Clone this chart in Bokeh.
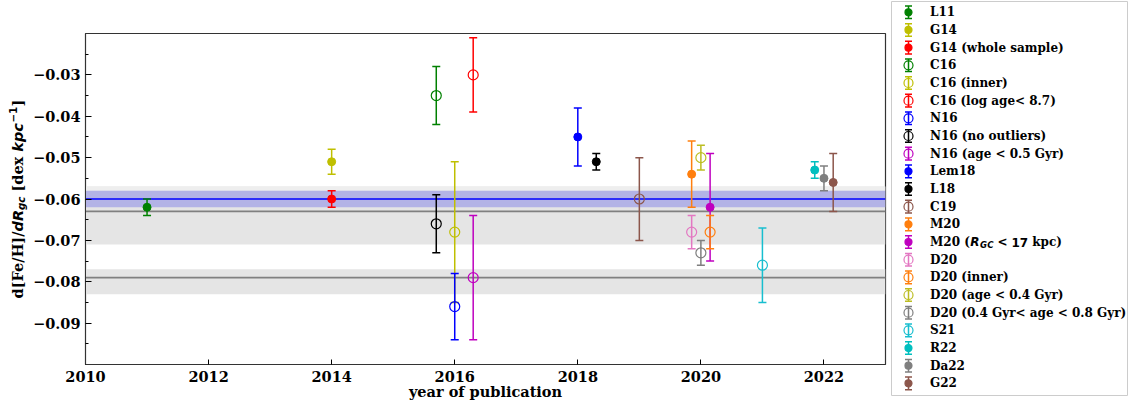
import math, os, glob
from bokeh.plotting import figure
from bokeh.models import Range1d, FixedTicker, ColumnDataSource, Span, BoxAnnotation
from bokeh.layouts import row
from bokeh.embed import file_html
from bokeh.resources import INLINE
from bokeh.core.properties import value

# ---------------- data ----------------
names = ["L11", "G14", "G14 (whole sample)", "C16", "C16 (inner)", "C16 (log age< 8.7)",
         "N16", "N16 (no outliers)", "N16 (age < 0.5 Gyr)", "Lem18", "L18", "C19", "M20",
         "M20 (R_GC < 17 kpc)", "D20", "D20 (inner)", "D20 (age < 0.4 Gyr)",
         "D20 (0.4 Gyr< age < 0.8 Gyr)", "S21", "R22", "Da22", "G22"]
year = [2011.0, 2014.0, 2014.0, 2015.7, 2016.0, 2016.3, 2016.0, 2015.7, 2016.3, 2018.0,
        2018.3, 2019.0, 2019.85, 2020.15, 2019.85, 2020.15, 2020.0, 2020.0, 2021.0,
        2021.85, 2022.0, 2022.15]
grad = [-0.062, -0.051, -0.060, -0.035, -0.068, -0.030, -0.086, -0.066, -0.079, -0.045,
        -0.051, -0.060, -0.054, -0.062, -0.068, -0.068, -0.050, -0.073, -0.076, -0.053,
        -0.055, -0.056]
err = [0.002, 0.003, 0.002, 0.007, 0.017, 0.009, 0.008, 0.007, 0.015, 0.007, 0.002, 0.010,
       0.008, 0.013, 0.004, 0.004, 0.003, 0.003, 0.009, 0.002, 0.003, 0.007]
colors = ["#008000", "#bfbf00", "#ff0000", "#008000", "#bfbf00", "#ff0000", "#0000ff",
          "#000000", "#bf00bf", "#0000ff", "#000000", "#8c564b", "#ff7f0e", "#bf00bf",
          "#e377c2", "#ff7f0e", "#bcbd22", "#7f7f7f", "#17becf", "#00bfbf", "#7f7f7f",
          "#8c564b"]
filled = [1, 1, 1, 0, 0, 0, 0, 0, 0, 1, 1, 0, 1, 1, 0, 0, 0, 0, 0, 1, 1, 1]

# reference bands / lines
grey_band_bottom = [-0.071, -0.083]
grey_band_top = [-0.057, -0.077]
grey_lines = [-0.063, -0.079]
light_strip = (-0.058, -0.057)
blue_band = (-0.062, -0.058)
blue_line = -0.060

x_ticks = [2010, 2012, 2014, 2016, 2018, 2020, 2022]
y_ticks = [-0.09, -0.08, -0.07, -0.06, -0.05, -0.04, -0.03]
y_minor = [-0.095, -0.085, -0.075, -0.065, -0.055, -0.045, -0.035, -0.025]
y_labels = ["\u22120.09", "\u22120.08", "\u22120.07", "\u22120.06", "\u22120.05",
            "\u22120.04", "\u22120.03"]

SERIF = "DejaVu Serif"
SANS = "DejaVu Sans"

# ---------------- text measuring helper ----------------
_font_cache = {}
def _find(fname):
    if fname in _font_cache:
        return _font_cache[fname]
    res = None
    for d in ["/usr/share/fonts", "/usr/local/share/fonts", os.path.expanduser("~/.fonts")]:
        r = glob.glob(d + "/**/" + fname, recursive=True)
        if r:
            res = r[0]
            break
    _font_cache[fname] = res
    return res

def text_w(s, fname, size, em=0.62):
    try:
        from PIL import ImageFont
        f = ImageFont.truetype(_find(fname), 100)
        return f.getlength(s) * size / 100.0
    except Exception:
        return len(s) * em * size

def no_align(fig):
    try:
        fig.frame_align = False
    except Exception:
        pass

H = 402
TOP, BOT = 33, 38

# ---------------- y-label figure (rotated composed label) ----------------
W_YL = 30
yl = figure(width=W_YL, height=H, output_backend="svg", toolbar_location=None,
            x_range=Range1d(0, W_YL), y_range=Range1d(BOT, H - TOP),
            x_axis_location=None, y_axis_location=None,
            min_border_left=0, min_border_right=0, min_border_top=TOP, min_border_bottom=BOT)
yl.grid.visible = False
yl.outline_line_color = None
no_align(yl)

ylab_pieces = [
    # text, font file, font name, style, size, perpendicular shift, gap before
    ("d[Fe/H]/", "DejaVuSerif-Bold.ttf", SERIF, "bold", 14.5, 0, 0),
    ("dR", "DejaVuSans-BoldOblique.ttf", SANS, "bold italic", 14.5, 0, 0),
    ("gc", "DejaVuSans-BoldOblique.ttf", SANS, "bold italic", 10.2, 3.5, 0),
    ("[dex", "DejaVuSerif-Bold.ttf", SERIF, "bold", 14.5, 0, 5.0),
    ("kpc", "DejaVuSans-BoldOblique.ttf", SANS, "bold italic", 14.5, 0, 5.0),
    ("\u22121", "DejaVuSans-Bold.ttf", SANS, "bold", 10.2, -5.0, 0.5),
    ("]", "DejaVuSerif-Bold.ttf", SERIF, "bold", 14.5, 0, 0.5),
]
widths = [text_w(t, ff, sz) for (t, ff, fn, st, sz, sh, g) in ylab_pieces]
gaps = [g for (t, ff, fn, st, sz, sh, g) in ylab_pieces]
total = sum(widths) + sum(gaps)
center_page_y = TOP + (H - TOP - BOT) / 2.0
pos = (H - center_page_y) - total / 2.0
for (t, ff, fn, st, sz, sh, g), w in zip(ylab_pieces, widths):
    pos += g
    yl.text(x=[17 + sh], y=[pos], text=[t], angle=math.pi / 2, text_font=value(fn),
            text_font_style=st, text_font_size=f"{sz}px", text_align="left",
            text_baseline="middle", text_color="black")
    pos += w

# ---------------- main figure ----------------
W_MAIN = 860
p = figure(width=W_MAIN, height=H, output_backend="svg", toolbar_location=None,
           x_range=Range1d(2010, 2023), y_range=Range1d(-0.1, -0.02),
           min_border_left=54, min_border_right=5, min_border_top=TOP, min_border_bottom=BOT)
p.grid.visible = False
p.outline_line_color = "#333333"
p.outline_line_width = 1.2
p.background_fill_color = "white"
p.border_fill_color = "white"
no_align(p)

for b0, b1 in zip(grey_band_bottom, grey_band_top):
    p.add_layout(BoxAnnotation(bottom=b0, top=b1, fill_color="#e5e5e5", fill_alpha=1.0,
                               line_color=None, level="underlay"))
p.add_layout(BoxAnnotation(bottom=light_strip[0], top=light_strip[1], fill_color="#eeeeee",
                           fill_alpha=1.0, line_color=None, level="underlay"))
p.add_layout(BoxAnnotation(bottom=blue_band[0], top=blue_band[1], fill_color="#b3b3e6",
                           fill_alpha=1.0, line_color=None, level="underlay"))
for gl in grey_lines:
    p.add_layout(Span(location=gl, dimension="width", line_color="#808080", line_width=1.6,
                      level="underlay"))
p.add_layout(Span(location=blue_line, dimension="width", line_color="#0000ff", line_width=1.6,
                  level="underlay"))

for i in range(len(names)):
    src = ColumnDataSource(dict(x=[year[i]], y=[grad[i]],
                                lo=[grad[i] - err[i]], hi=[grad[i] + err[i]]))
    c = colors[i]
    p.segment(x0="x", x1="x", y0="lo", y1="hi", source=src, line_color=c, line_width=1.5)
    p.scatter(x="x", y="lo", source=src, marker="dash", size=8, line_color=c, line_width=1.5)
    p.scatter(x="x", y="hi", source=src, marker="dash", size=8, line_color=c, line_width=1.5)
    if filled[i]:
        p.scatter(x="x", y="y", source=src, marker="circle", size=8, fill_color=c,
                  line_color=c, line_width=1)
    else:
        p.scatter(x="x", y="y", source=src, marker="circle", size=10, fill_color=None,
                  line_color=c, line_width=1.2)

xa = p.xaxis[0]
xa.ticker = FixedTicker(ticks=x_ticks, minor_ticks=[])
xa.axis_label = "year of publication"
xa.axis_label_text_font = SERIF
xa.axis_label_text_font_style = "bold"
xa.axis_label_text_font_size = "14.5px"
xa.axis_label_text_color = "black"
xa.axis_label_standoff = -2
xa.major_label_text_font = SERIF
xa.major_label_text_font_style = "bold"
xa.major_label_text_font_size = "14.5px"
xa.major_label_text_color = "black"
xa.major_label_standoff = 6
xa.major_tick_in = 5
xa.major_tick_out = 0
xa.major_tick_line_color = "black"
xa.axis_line_color = "#333333"

ya = p.yaxis[0]
ya.ticker = FixedTicker(ticks=y_ticks, minor_ticks=y_minor)
ya.major_label_overrides = {t: l for t, l in zip(y_ticks, y_labels)}
ya.major_label_text_font = SERIF
ya.major_label_text_font_style = "bold"
ya.major_label_text_font_size = "14.5px"
ya.major_label_text_color = "black"
ya.major_label_standoff = 5
ya.major_tick_in = 6
ya.major_tick_out = 0
ya.minor_tick_in = 3
ya.minor_tick_out = 0
ya.major_tick_line_color = "black"
ya.minor_tick_line_color = "black"
ya.axis_line_color = "#333333"
ya.axis_label = None

# ---------------- legend figure ----------------
W_LEG = 238
H_LEG = 396
LW, LH = W_LEG - 2, H_LEG - 2
leg = figure(width=W_LEG, height=H_LEG, output_backend="svg", toolbar_location=None,
             x_range=Range1d(0, LW), y_range=Range1d(LH, 0),
             x_axis_location=None, y_axis_location=None,
             min_border_left=1, min_border_right=1, min_border_top=1, min_border_bottom=1)
leg.grid.visible = False
leg.outline_line_color = "#cccccc"
leg.outline_line_width = 1
no_align(leg)

n = len(names)
row_y = [10.8 + i * 17.67 for i in range(n)]
icon_x = [17.0] * n
txt_x = [38.5] * n
special = names.index("M20 (R_GC < 17 kpc)")
disp = list(names)
disp[special] = "M20 ("

ls = ColumnDataSource(dict(x=icon_x, y=row_y, lo=[v + 6.3 for v in row_y],
                           hi=[v - 6.3 for v in row_y], c=colors,
                           fc=[c if f else None for c, f in zip(colors, filled)],
                           sz=[7 if f else 9 for f in filled],
                           tx=txt_x, t=disp))
leg.segment(x0="x", x1="x", y0="lo", y1="hi", source=ls, line_color="c", line_width=1.5)
leg.scatter(x="x", y="lo", source=ls, marker="dash", size=7, line_color="c", line_width=1.5)
leg.scatter(x="x", y="hi", source=ls, marker="dash", size=7, line_color="c", line_width=1.5)
leg.scatter(x="x", y="y", source=ls, marker="circle", size="sz", fill_color="fc",
            line_color="c", line_width=1.2)
leg.text(x="tx", y="y", text="t", source=ls, text_font=value(SERIF), text_font_style="bold",
         text_font_size="12px", text_baseline="middle", text_align="left", text_color="black")

# special math-styled entry
ys = row_y[special]
xcur = txt_x[special] + text_w("M20 (", "DejaVuSerif-Bold.ttf", 12)
m_pieces = [
    ("R", "DejaVuSans-BoldOblique.ttf", SANS, "bold italic", 12, 0, 0.5),
    ("GC", "DejaVuSans-BoldOblique.ttf", SANS, "bold italic", 8.6, 2.5, 0.5),
    ("<", "DejaVuSans-Bold.ttf", SANS, "bold", 12, 0, 4.0),
    ("17", "DejaVuSans-Bold.ttf", SANS, "bold", 12, 0, 4.0),
    ("kpc)", "DejaVuSerif-Bold.ttf", SERIF, "bold", 12, 0, 4.0),
]
for (t, ff, fn, st, sz, sh, g) in m_pieces:
    xcur += g
    leg.text(x=[xcur], y=[ys + sh], text=[t], text_font=value(fn), text_font_style=st,
             text_font_size=f"{sz}px", text_baseline="middle", text_align="left",
             text_color="black")
    xcur += text_w(t, ff, sz)

layout = row(yl, p, leg, spacing=0)
open("out.html", "w").write(file_html(layout, INLINE))
